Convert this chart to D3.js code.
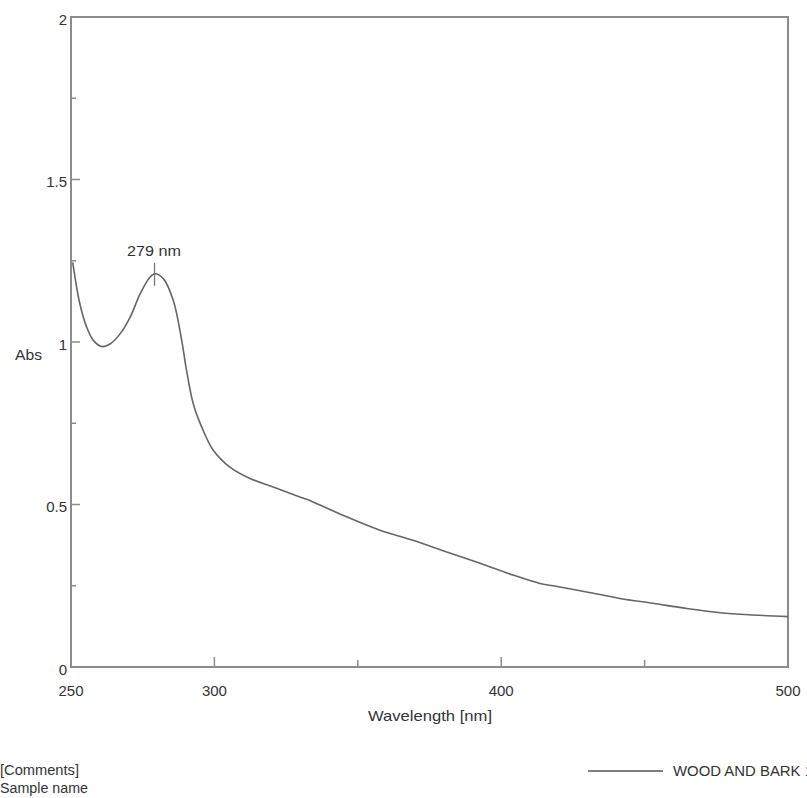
<!DOCTYPE html>
<html>
<head>
<meta charset="utf-8">
<script src="https://cdn.jsdelivr.net/npm/d3@7"></script>
<style>
  html, body { margin: 0; padding: 0; background: #fff; }
  svg { display: block; }
  text { font-family: "Liberation Sans", Arial, sans-serif; fill: #333; }
</style>
</head>
<body>
<svg id="chart" width="807" height="798"></svg>
<script>
// Data
const wavelength = [250.6, 253.1, 255.5, 257.8, 260.7, 263.6, 267.1, 270.6, 274.1, 277.5, 279.3, 282.2, 285.7, 288.6, 290.3, 292.6, 295.6, 299.6, 305.4, 312.4, 320.5, 329.8, 334.4, 346.1, 357.7, 369.2, 381.0, 392.6, 404.1, 413.5, 418.1, 429.8, 441.4, 452.9, 464.7, 476.3, 487.8, 500];
const absorbance = [1.245, 1.117, 1.045, 1.005, 0.986, 0.994, 1.025, 1.076, 1.148, 1.199, 1.21, 1.195, 1.127, 1.005, 0.912, 0.811, 0.738, 0.667, 0.615, 0.580, 0.554, 0.523, 0.508, 0.462, 0.421, 0.390, 0.354, 0.319, 0.283, 0.257, 0.250, 0.231, 0.211, 0.196, 0.180, 0.167, 0.160, 0.155];
const xTickValues = [250, 300, 400, 500];
const xMinorTicks = [350, 450];
const yTickValues = [0, 0.5, 1, 1.5, 2];
const yTickLabels = ["0", "0.5", "1", "1.5", "2"];
const yMinorTicks = [0.25, 0.75, 1.25, 1.75];
const peakLabel = "279 nm";
const peakWavelength = 279.3;
const peakAbs = 1.21;
const seriesName = "WOOD AND BARK 1";

const svg = d3.select("#chart");
const mLeft = 71, mRight = 788, mTop = 17, mBottom = 667;

const x = d3.scaleLinear().domain([250, 500]).range([mLeft, mRight]);
const y = d3.scaleLinear().domain([0, 2]).range([mBottom, mTop]);

// frame
svg.append("rect")
  .attr("x", mLeft).attr("y", mTop)
  .attr("width", mRight - mLeft).attr("height", mBottom - mTop)
  .attr("fill", "none").attr("stroke", "#8c8c8c").attr("stroke-width", 2);

// x ticks (inward)
svg.selectAll(".xt").data(xTickValues.filter(d => d > 250 && d < 500)).enter()
  .append("line")
  .attr("x1", d => x(d)).attr("x2", d => x(d))
  .attr("y1", mBottom).attr("y2", mBottom - 10)
  .attr("stroke", "#8c8c8c").attr("stroke-width", 1.5);
svg.selectAll(".xm").data(xMinorTicks).enter()
  .append("line")
  .attr("x1", d => x(d)).attr("x2", d => x(d))
  .attr("y1", mBottom).attr("y2", mBottom - 7)
  .attr("stroke", "#8c8c8c").attr("stroke-width", 1.5);
svg.selectAll(".xl").data(xTickValues).enter()
  .append("text")
  .attr("x", d => x(d)).attr("y", 690)
  .attr("text-anchor", "middle").attr("dominant-baseline", "central")
  .attr("font-size", 15)
  .text(d => d);

// y ticks (inward)
svg.selectAll(".yt").data(yTickValues.filter(d => d > 0 && d < 2)).enter()
  .append("line")
  .attr("x1", mLeft).attr("x2", mLeft + 9)
  .attr("y1", d => y(d)).attr("y2", d => y(d))
  .attr("stroke", "#8c8c8c").attr("stroke-width", 1.5);
svg.selectAll(".ym").data(yMinorTicks).enter()
  .append("line")
  .attr("x1", mLeft).attr("x2", mLeft + 5)
  .attr("y1", d => y(d)).attr("y2", d => y(d))
  .attr("stroke", "#8c8c8c").attr("stroke-width", 1.5);
svg.selectAll(".yl").data(yTickValues).enter()
  .append("text")
  .attr("x", 67).attr("y", d => y(d) + 2)
  .attr("text-anchor", "end").attr("dominant-baseline", "central")
  .attr("font-size", 15)
  .text((d, i) => yTickLabels[i]);

// axis titles
svg.append("text")
  .attr("x", 430).attr("y", 715)
  .attr("text-anchor", "middle").attr("dominant-baseline", "central")
  .attr("font-size", 15)
  .attr("textLength", 124).attr("lengthAdjust", "spacingAndGlyphs")
  .text("Wavelength [nm]");
svg.append("text")
  .attr("x", 15).attr("y", 354)
  .attr("dominant-baseline", "central")
  .attr("font-size", 15)
  .attr("textLength", 27).attr("lengthAdjust", "spacingAndGlyphs")
  .text("Abs");

// curve
const line = d3.line()
  .x((d, i) => x(wavelength[i]))
  .y(d => y(d))
  .curve(d3.curveCatmullRom.alpha(0.5));
svg.append("path")
  .datum(absorbance)
  .attr("d", line)
  .attr("fill", "none")
  .attr("stroke", "#666")
  .attr("stroke-width", 1.6);

// peak marker
svg.append("line")
  .attr("x1", x(peakWavelength) - 0.5).attr("x2", x(peakWavelength) - 0.5)
  .attr("y1", y(peakAbs) - 11).attr("y2", y(peakAbs) + 12)
  .attr("stroke", "#777").attr("stroke-width", 1.3);
svg.append("text")
  .attr("x", x(peakWavelength) - 1).attr("y", 250)
  .attr("text-anchor", "middle").attr("dominant-baseline", "central")
  .attr("font-size", 15)
  .attr("textLength", 54).attr("lengthAdjust", "spacingAndGlyphs")
  .text(peakLabel);

// footer
svg.append("text")
  .attr("x", 0).attr("y", 770)
  .attr("dominant-baseline", "central")
  .attr("font-size", 14)
  .attr("textLength", 79).attr("lengthAdjust", "spacingAndGlyphs")
  .text("[Comments]");
svg.append("text")
  .attr("x", 0).attr("y", 788)
  .attr("dominant-baseline", "central")
  .attr("font-size", 14)
  .attr("textLength", 88).attr("lengthAdjust", "spacingAndGlyphs")
  .text("Sample name");

// legend
svg.append("line")
  .attr("x1", 588).attr("x2", 663)
  .attr("y1", 771).attr("y2", 771)
  .attr("stroke", "#555").attr("stroke-width", 1.3);
svg.append("text")
  .attr("x", 673).attr("y", 771)
  .attr("dominant-baseline", "central")
  .attr("font-size", 14)
  .attr("textLength", 140).attr("lengthAdjust", "spacingAndGlyphs")
  .text(seriesName);
</script>
</body>
</html>
